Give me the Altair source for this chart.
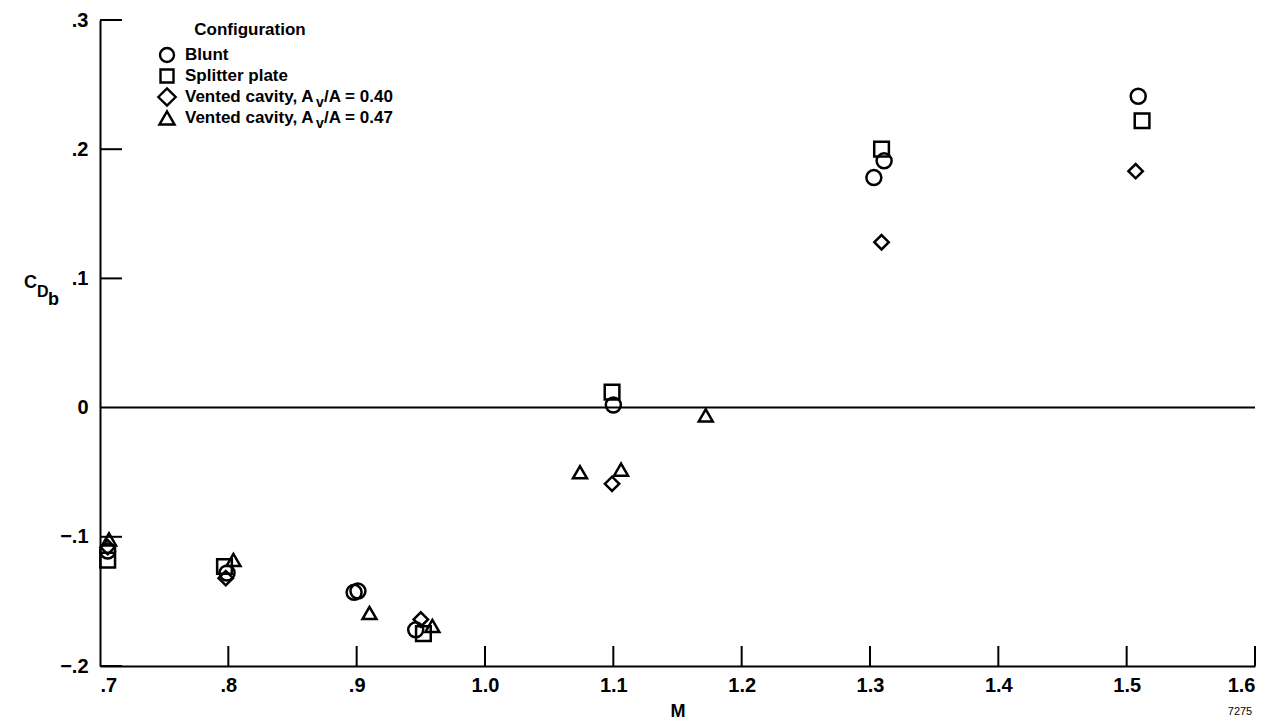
import altair as alt
import pandas as pd

# ---- data ----
blunt_M = [0.706, 0.799, 0.898, 0.901, 0.946, 1.100, 1.303, 1.311, 1.509]
blunt_C = [-0.111, -0.128, -0.143, -0.142, -0.172, 0.002, 0.178, 0.191, 0.241]

splitter_M = [0.706, 0.797, 0.952, 1.099, 1.309, 1.512]
splitter_C = [-0.118, -0.123, -0.175, 0.012, 0.200, 0.222]

vent40_M = [0.706, 0.798, 0.950, 1.099, 1.309, 1.507]
vent40_C = [-0.108, -0.132, -0.164, -0.059, 0.128, 0.183]

vent47_M = [0.707, 0.804, 0.910, 0.959, 1.074, 1.106, 1.172]
vent47_C = [-0.102, -0.118, -0.159, -0.169, -0.050, -0.048, -0.006]

configs = ["Blunt", "Splitter plate", "Vented cavity 0.40", "Vented cavity 0.47"]
shapes = ["circle", "square", "diamond", "triangle-up"]
sizes = [225, 196, 361, 270]

x_ticks = [0.7, 0.8, 0.9, 1.0, 1.1, 1.2, 1.3, 1.4, 1.5, 1.6]
y_ticks = [-0.2, -0.1, 0.0, 0.1, 0.2, 0.3]

rows = []
for name, Ms, Cs in [(configs[0], blunt_M, blunt_C), (configs[1], splitter_M, splitter_C),
                     (configs[2], vent40_M, vent40_C), (configs[3], vent47_M, vent47_C)]:
    for m, c in zip(Ms, Cs):
        rows.append({"M": m, "C": c, "config": name})
df = pd.DataFrame(rows)

FONT = "Liberation Sans"
W, H = 1155, 646

xs = alt.Scale(domain=[0.7, 1.6], nice=False, zero=False)
ys = alt.Scale(domain=[-0.2, 0.3], nice=False, zero=False)

x_enc = alt.X("M:Q", scale=xs, axis=alt.Axis(
    values=x_ticks, ticks=False, grid=False, domainColor="black", domainWidth=2,
    labelFont=FONT, labelFontWeight="bold", labelFontSize=20, labelColor="black",
    labelPadding=9,
    labelExpr="datum.value < 0.95 ? '.' + format(datum.value*10, '.0f') : format(datum.value, '.1f')",
    title="M", titleFont=FONT, titleFontWeight="bold", titleFontSize=18, titleColor="black",
    titlePadding=7))
y_enc = alt.Y("C:Q", scale=ys, axis=alt.Axis(
    values=y_ticks, ticks=False, grid=False, domainColor="black", domainWidth=2,
    labelFont=FONT, labelFontWeight="bold", labelFontSize=20, labelColor="black",
    labelPadding=12,
    labelExpr="datum.value == 0 ? '0' : (datum.value < 0 ? '\u2212.' : '.') + format(abs(datum.value)*10, '.0f')",
    title=None))

points = alt.Chart(df).mark_point(filled=False, strokeWidth=2.5, color="black", opacity=1).encode(
    x=x_enc, y=y_enc,
    shape=alt.Shape("config:N", scale=alt.Scale(domain=configs, range=shapes), legend=None),
    size=alt.Size("config:N", scale=alt.Scale(domain=configs, range=sizes), legend=None),
)

zero = alt.Chart(pd.DataFrame({"C": [0.0]})).mark_rule(color="black", strokeWidth=2).encode(
    y=alt.Y("C:Q", scale=ys))

xt = alt.Chart(pd.DataFrame({"M": x_ticks[1:]})).mark_rule(color="black", strokeWidth=2).encode(
    x=alt.X("M:Q", scale=xs), y=alt.value(H), y2=alt.value(H - 20))
yt = alt.Chart(pd.DataFrame({"C": [-0.2, -0.1, 0.1, 0.2, 0.3]})).mark_rule(color="black", strokeWidth=2).encode(
    y=alt.Y("C:Q", scale=ys), x=alt.value(0), x2=alt.value(22))

one = pd.DataFrame({"a": [0]})


def txt(s, x, y, size=17, weight="bold", align="left", baseline="middle"):
    return alt.Chart(one).mark_text(font=FONT, fontSize=size, fontWeight=weight, color="black",
                                    align=align, baseline=baseline).encode(
        x=alt.value(x), y=alt.value(y), text=alt.value(s))


def sym(shape, size, x, y):
    return alt.Chart(one).mark_point(shape=shape, size=size, filled=False, strokeWidth=2.4,
                                     color="black", opacity=1).encode(x=alt.value(x), y=alt.value(y))


LX_SYM, LX_TXT = 67, 85
row_y = [35, 56, 77, 98]
legend_layers = [txt("Configuration", 150, 10, align="center")]
legend_layers += [sym("circle", 196, LX_SYM, row_y[0]), txt("Blunt", LX_TXT, row_y[0])]
legend_layers += [sym("square", 169, LX_SYM, row_y[1]), txt("Splitter plate", LX_TXT, row_y[1])]
for i, val in [(2, "0.40"), (3, "0.47")]:
    shp = "diamond" if i == 2 else "triangle-up"
    sz = 300 if i == 2 else 230
    legend_layers += [sym(shp, sz, LX_SYM, row_y[i]),
                      txt("Vented cavity, A", LX_TXT, row_y[i]),
                      txt("v", LX_TXT + 131, row_y[i] + 6, size=14),
                      txt("/A = " + val, LX_TXT + 139, row_y[i])]

ytitle = [txt("C", -76, 263, size=18), txt("D", -63, 272, size=16), txt("b", -52, 280, size=18)]
note = [txt("7275", 1140, 692, size=11, weight="normal", align="center")]

chart = alt.layer(zero, xt, yt, points, *legend_layers, *ytitle, *note).properties(
    width=W, height=H,
    autosize=alt.AutoSizeParams(type="none"),
    padding={"left": 100, "top": 20, "right": 24, "bottom": 57},
    background="white",
).configure_view(stroke=None)

chart.save("out.html", embed_options={"renderer": "svg", "actions": False})
